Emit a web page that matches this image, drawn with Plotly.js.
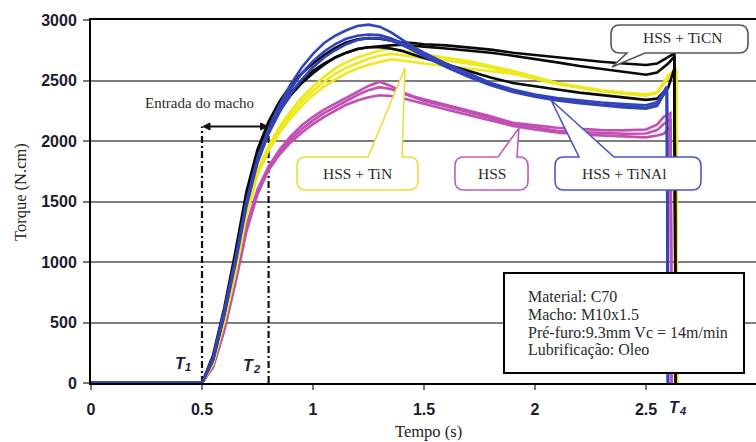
<!DOCTYPE html>
<html>
<head>
<meta charset="utf-8">
<script src="https://cdn.plot.ly/plotly-3.0.1.min.js"></script>
<style>
  html, body { margin: 0; padding: 0; overflow: hidden; background: #fff; }
  #grafico { width: 760px; height: 442px; }
</style>
</head>
<body>
<div id="grafico"></div>
<script>
// Torque (N.cm) over time (s) while tapping C70 steel, three runs per tool coating.
const tempo = [0, 0.50, 0.55, 0.60, 0.65, 0.70, 0.75, 0.80, 0.85, 0.90, 0.95, 1.00, 1.05, 1.10, 1.15,
  1.20, 1.25, 1.30, 1.35, 1.40, 1.45, 1.50, 1.60, 1.70, 1.80, 1.90, 2.00, 2.10, 2.20, 2.30, 2.40, 2.50, 2.55];

// end of each run: last rise and the drop when the tap reverses (T4)
const fimTiCN  = [2.600, 2.628, 2.634];
const fimTiNAl = [2.575, 2.594, 2.599];
const fimTiN   = [2.600, 2.636, 2.640];
const fimHSS   = [2.580, 2.610, 2.616];

// HSS + TiCN
const ticnA = [0, 0, 230, 620, 1080, 1580, 1930, 2160, 2330, 2460, 2560, 2640, 2710, 2770, 2815, 2840, 2850, 2845,
  2830, 2815, 2810, 2800, 2790, 2775, 2755, 2730, 2710, 2690, 2670, 2655, 2640, 2628, 2640, 2690, 2725, 0];
const ticnB = [0, 0, 200, 580, 1040, 1540, 1900, 2120, 2280, 2400, 2500, 2580, 2640, 2690, 2730, 2760, 2775, 2785,
  2790, 2795, 2790, 2780, 2765, 2750, 2730, 2705, 2680, 2650, 2620, 2595, 2570, 2548, 2565, 2640, 2700, 0];
const ticnC = [0, 0, 190, 560, 1010, 1500, 1870, 2090, 2250, 2380, 2480, 2560, 2630, 2690, 2730, 2760, 2775, 2775,
  2765, 2745, 2715, 2685, 2635, 2580, 2525, 2480, 2450, 2425, 2400, 2380, 2360, 2340, 2350, 2440, 2600, 0];

// HSS + TiNAl
const tinalA = [0, 0, 210, 600, 1020, 1500, 1860, 2100, 2300, 2470, 2610, 2720, 2810, 2870, 2915, 2950, 2962, 2945,
  2900, 2840, 2780, 2730, 2640, 2560, 2480, 2425, 2385, 2355, 2335, 2318, 2305, 2295, 2320, 2400, 2450, 0];
const tinalB = [0, 0, 200, 580, 1000, 1480, 1840, 2080, 2270, 2430, 2560, 2660, 2740, 2800, 2845, 2870, 2880, 2875,
  2850, 2810, 2760, 2710, 2620, 2540, 2470, 2415, 2375, 2345, 2320, 2300, 2285, 2275, 2300, 2380, 2430, 0];
const tinalC = [0, 0, 190, 560, 980, 1460, 1820, 2060, 2240, 2390, 2510, 2610, 2690, 2750, 2800, 2835, 2850, 2850,
  2830, 2795, 2750, 2700, 2610, 2530, 2460, 2405, 2365, 2335, 2312, 2292, 2278, 2268, 2290, 2370, 2420, 0];

// HSS + TiN
const tinA = [0, 0, 170, 520, 930, 1420, 1760, 1960, 2120, 2250, 2360, 2450, 2530, 2600, 2650, 2690, 2720, 2748,
  2762, 2750, 2730, 2715, 2690, 2660, 2620, 2580, 2530, 2480, 2450, 2420, 2400, 2385, 2405, 2540, 2600, 0];
const tinB = [0, 0, 160, 500, 900, 1380, 1720, 1920, 2070, 2190, 2290, 2380, 2450, 2510, 2560, 2600, 2630, 2655,
  2675, 2665, 2650, 2640, 2620, 2600, 2580, 2555, 2515, 2470, 2440, 2410, 2390, 2375, 2395, 2520, 2580, 0];
const tinC = [0, 0, 165, 510, 915, 1400, 1740, 1940, 2095, 2220, 2325, 2415, 2490, 2555, 2605, 2645, 2680, 2705,
  2720, 2710, 2695, 2685, 2665, 2640, 2605, 2565, 2520, 2475, 2445, 2415, 2395, 2380, 2400, 2530, 2590, 0];

// HSS (uncoated)
const hssA = [0, 0, 140, 460, 860, 1300, 1600, 1790, 1930, 2040, 2130, 2200, 2260, 2310, 2360, 2410, 2455, 2490,
  2455, 2405, 2370, 2345, 2300, 2255, 2205, 2150, 2130, 2110, 2100, 2090, 2088, 2095, 2135, 2200, 2230, 0];
const hssB = [0, 0, 130, 430, 820, 1250, 1560, 1760, 1890, 1990, 2070, 2140, 2200, 2250, 2300, 2335, 2362, 2378,
  2372, 2355, 2330, 2305, 2260, 2215, 2170, 2125, 2095, 2070, 2055, 2045, 2035, 2030, 2045, 2060, 2120, 0];
const hssC = [0, 0, 135, 445, 840, 1275, 1580, 1775, 1910, 2015, 2100, 2170, 2230, 2280, 2330, 2380, 2420, 2445,
  2430, 2395, 2360, 2330, 2285, 2240, 2190, 2140, 2110, 2085, 2075, 2065, 2060, 2062, 2090, 2140, 2180, 0];

// instants marked on the time axis
const T1 = 0.5, T2 = 0.8, entradaTorque = 2120;

const xTickVals = [0, 0.5, 1, 1.5, 2, 2.5, 3];
const xTickText = ['0', '0.5', '1', '1.5', '2', '2.5', '3'];

const corHSS = '#c24fb3', corTiN = '#eee81c', corTiCN = '#0a0a0a', corTiNAl = '#3344b8';

function run(t, y, cor, nome) {
  return { x: t, y: y, type: 'scatter', mode: 'lines', name: nome,
           line: { color: cor, width: 2.6 }, hoverinfo: 'skip' };
}

const traces = [
  run(tempo.concat(fimHSS), hssB, corHSS, 'HSS'),
  run(tempo.concat(fimHSS), hssC, corHSS, 'HSS'),
  run(tempo.concat(fimHSS), hssA, corHSS, 'HSS'),
  run(tempo.concat(fimTiN), tinB, corTiN, 'HSS + TiN'),
  run(tempo.concat(fimTiN), tinC, corTiN, 'HSS + TiN'),
  run(tempo.concat(fimTiN), tinA, corTiN, 'HSS + TiN'),
  run(tempo.concat(fimTiCN), ticnC, corTiCN, 'HSS + TiCN'),
  run(tempo.concat(fimTiCN), ticnB, corTiCN, 'HSS + TiCN'),
  run(tempo.concat(fimTiCN), ticnA, corTiCN, 'HSS + TiCN'),
  run(tempo.concat(fimTiNAl), tinalC, corTiNAl, 'HSS + TiNAl'),
  run(tempo.concat(fimTiNAl), tinalB, corTiNAl, 'HSS + TiNAl'),
  run(tempo.concat(fimTiNAl), tinalA, corTiNAl, 'HSS + TiNAl')
];

// plot-area geometry in page pixels, used for the callouts and text boxes
const ML = 91, MT = 20, PW = 666, PH = 363;
const px = v => (v - ML) / PW;
const py = v => (MT + PH - v) / PH;
const P = (x, y) => px(x).toFixed(4) + ',' + py(y).toFixed(4);
// data -> page pixels (x range 0..3, y range 0..3000)
const dX = v => ML + v / 3 * PW;
const dY = v => MT + PH - v / 3000 * PH;

// rounded speech bubble; tail on the top or bottom edge (a < b along that edge)
function bolha(x0, y0, x1, y1, r, lado, a, b, tx, ty) {
  let d = 'M' + P(x0 + r, y0);
  if (lado === 'top') d += ' L' + P(a, y0) + ' L' + P(tx, ty) + ' L' + P(b, y0);
  d += ' L' + P(x1 - r, y0) + ' Q' + P(x1, y0) + ' ' + P(x1, y0 + r);
  d += ' L' + P(x1, y1 - r) + ' Q' + P(x1, y1) + ' ' + P(x1 - r, y1);
  if (lado === 'bottom') d += ' L' + P(b, y1) + ' L' + P(tx, ty) + ' L' + P(a, y1);
  d += ' L' + P(x0 + r, y1) + ' Q' + P(x0, y1) + ' ' + P(x0, y1 - r);
  d += ' L' + P(x0, y0 + r) + ' Q' + P(x0, y0) + ' ' + P(x0 + r, y0) + ' Z';
  return d;
}

// filled arrowhead whose point is at (x, y); dir = -1 points left, +1 points right
function ponta(x, y, dir) {
  const len = 7, half = 3.5;
  return 'M' + P(x, y) + ' L' + P(x - dir * len, y - half) + ' L' + P(x - dir * len, y + half) + ' Z';
}

const serif = 'Liberation Serif, Times New Roman, serif';
const textoCor = '#2b2b2b';

function rotulo(texto, x, y, opts) {
  return Object.assign({
    text: texto, xref: 'paper', yref: 'paper', x: px(x), y: py(y),
    xanchor: 'center', yanchor: 'middle', showarrow: false,
    font: { family: serif, size: 15.5, color: textoCor }
  }, opts || {});
}

const seta = { color: '#111', width: 2 };
const yEntrada = dY(entradaTorque);

const shapes = [
  // T1 / T2 dash-dot markers
  { type: 'line', xref: 'x', yref: 'y', x0: T1, x1: T1, y0: 0, y1: entradaTorque, layer: 'between',
    line: { color: '#111', width: 2.2, dash: '7px,3px,2px,3px' } },
  { type: 'line', xref: 'x', yref: 'y', x0: T2, x1: T2, y0: 0, y1: entradaTorque, layer: 'between',
    line: { color: '#111', width: 2.2, dash: '7px,3px,2px,3px' } },
  // double arrow for the tap entry period
  { type: 'line', xref: 'paper', yref: 'paper', x0: px(dX(T1) + 4), x1: px(dX(T2) - 4),
    y0: py(yEntrada), y1: py(yEntrada), layer: 'between', line: seta },
  { type: 'path', xref: 'paper', yref: 'paper', layer: 'between', fillcolor: '#111',
    line: { color: '#111', width: 1 }, path: ponta(dX(T1) + 1, yEntrada, -1) },
  { type: 'path', xref: 'paper', yref: 'paper', layer: 'between', fillcolor: '#111',
    line: { color: '#111', width: 1 }, path: ponta(dX(T2) - 1, yEntrada, 1) },
  // callouts
  { type: 'path', xref: 'paper', yref: 'paper', layer: 'above', fillcolor: '#fff',
    line: { color: '#555', width: 1.6 }, path: bolha(611, 25, 748, 53, 9, 'bottom', 627, 645, 612, 67) },
  { type: 'path', xref: 'paper', yref: 'paper', layer: 'above', fillcolor: '#fff',
    line: { color: '#e6df3a', width: 1.6 }, path: bolha(297, 157, 418, 190, 9, 'top', 368, 402, 405, 68) },
  { type: 'path', xref: 'paper', yref: 'paper', layer: 'above', fillcolor: '#fff',
    line: { color: '#c45ab6', width: 1.6 }, path: bolha(455, 157, 528, 190, 9, 'top', 498, 517, 519, 128) },
  { type: 'path', xref: 'paper', yref: 'paper', layer: 'above', fillcolor: '#fff',
    line: { color: '#4a55bd', width: 1.6 }, path: bolha(555, 157, 701, 190, 9, 'top', 579, 614, 551, 100) },
  // test conditions box
  { type: 'rect', xref: 'paper', yref: 'paper', layer: 'above', fillcolor: '#fff',
    x0: px(504), x1: px(744), y0: py(373), y1: py(273), line: { color: '#000', width: 2 } }
];

const tFont = { family: 'Liberation Sans, Arial, sans-serif', size: 16, color: '#1c1d3a', weight: 'bold', style: 'italic' };
const subFont = { family: 'Liberation Sans, Arial, sans-serif', size: 11, color: '#1c1d3a', weight: 'bold', style: 'italic' };

// "T" with its index set as a smaller, lowered label right after it
function marcaT(indice, x, y) {
  return [
    rotulo('T', x, y, { font: tFont, xanchor: 'right', borderpad: 0 }),
    rotulo(indice, x - 3, y + 4, { font: subFont, xanchor: 'left', borderpad: 0 })
  ];
}

const serifBox = { family: serif, size: 16, color: textoCor };

const annotations = [
  rotulo('Entrada do macho', 199, 103, { font: { family: serif, size: 15, color: textoCor } }),
  rotulo('HSS + TiCN', 682, 38),
  rotulo('HSS + TiN', 357, 174),
  rotulo('HSS', 492, 174),
  rotulo('HSS + TiNAl', 624, 174),
  rotulo('Material: C70', 526, 296, { xanchor: 'left', font: serifBox }),
  rotulo('Macho: M10x1.5', 526, 314, { xanchor: 'left', font: serifBox }),
  rotulo('Pré-furo:9.3mm Vc = 14m/min', 526, 332, { xanchor: 'left', font: serifBox }),
  rotulo('Lubrificação: Oleo', 526, 350, { xanchor: 'left', font: serifBox }),
  ...marcaT('1', 187, 363),
  ...marcaT('2', 255, 365),
  ...marcaT('4', 681, 407),
  // axis titles
  rotulo('Torque (N.cm)', 20, 192, { textangle: -90, font: { family: serif, size: 16.5, color: '#222' } }),
  rotulo('Tempo (s)', 428, 432, { font: { family: serif, size: 16.5, color: '#222' } })
];

const tickFont = { family: 'Liberation Sans, Arial, sans-serif', size: 16, color: '#1b1b2b', weight: 'bold' };

const layout = {
  width: 760, height: 442,
  margin: { l: ML, r: 760 - ML - PW, t: MT, b: 442 - MT - PH },
  paper_bgcolor: '#fff', plot_bgcolor: '#fff', showlegend: false,
  xaxis: {
    range: [0, 3], tickvals: xTickVals, ticktext: xTickText, showgrid: false, zeroline: false,
    showline: true, linecolor: '#000', linewidth: 2, mirror: true, layer: 'below traces',
    ticks: 'outside', ticklen: 5, tickwidth: 2, tickcolor: '#777',
    tickfont: tickFont, ticklabelstandoff: 6, fixedrange: true
  },
  yaxis: {
    range: [0, 3000], dtick: 500, showgrid: true, gridcolor: '#7d7d7d', gridwidth: 2, zeroline: false,
    showline: true, linecolor: '#000', linewidth: 2, mirror: true,
    ticks: 'outside', ticklen: 6, tickwidth: 2, tickcolor: '#777',
    tickfont: tickFont, ticklabelstandoff: 3, fixedrange: true
  },
  shapes: shapes,
  annotations: annotations
};

Plotly.newPlot('grafico', traces, layout, { displayModeBar: false, staticPlot: true });
</script>
</body>
</html>
